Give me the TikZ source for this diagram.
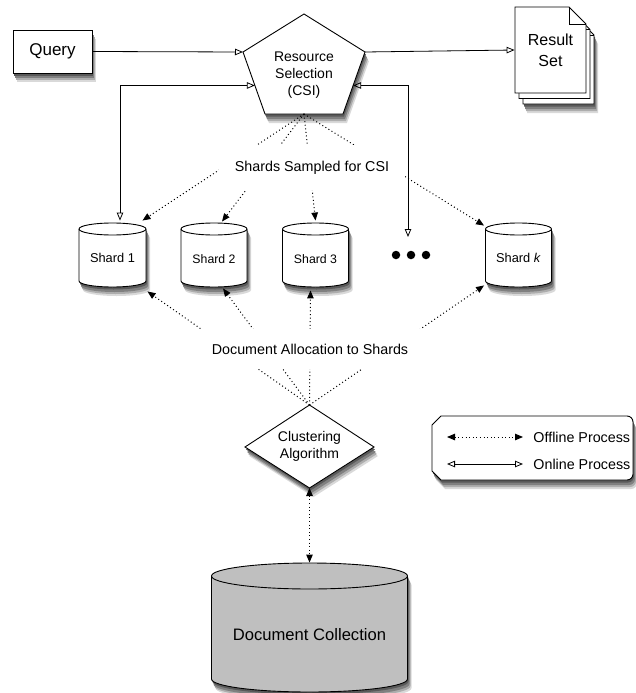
\documentclass[tikz,border=0pt]{standalone}
\usepackage{fontspec}
\setmainfont{Liberation Sans}
\usetikzlibrary{arrows.meta,calc}
\tikzset{
  online/.style={line width=0.8pt},
  offline/.style={line width=1pt,dash pattern=on 1pt off 2.6pt},
  onend/.style={online,-{Triangle[open,length=8pt,width=6.5pt]}},
  onboth/.style={online,{Triangle[open,length=8pt,width=6.5pt]}-{Triangle[open,length=8pt,width=6.5pt]}},
  offend/.style={offline,-{Triangle[length=8pt,width=6.5pt]}},
  offboth/.style={offline,{Triangle[length=8pt,width=6.5pt]}-{Triangle[length=8pt,width=6.5pt]}},
  lbl/.style={font=\fontsize{14.3}{17}\selectfont},
}
\definecolor{shA}{gray}{0.85}
\definecolor{shB}{gray}{0.68}
\definecolor{shC}{gray}{0.50}
\definecolor{shD}{gray}{0.35}
% soft shadow: several shifted grey copies of a numeric path
\newcommand{\shadowof}[1]{%
  \begin{scope}[shift={(4,-9)}]\fill[shA] #1;\end{scope}
  \begin{scope}[shift={(3,-7)}]\fill[shB] #1;\end{scope}
  \begin{scope}[shift={(2,-5)}]\fill[shC] #1;\end{scope}
  \begin{scope}[shift={(1,-2.5)}]\fill[shD] #1;\end{scope}
}
% #1 name, #2 cx, #3 top, #4 bottom, #5 rx, #6 ry, #7 fill, #8 text, #9 text y
\newcommand{\mycyl}[9]{%
  \shadowof{(#2-#5,-#3-#6) -- (#2-#5,-#4+#6)
     arc[start angle=180,end angle=360,x radius=#5,y radius=#6]
     -- (#2+#5,-#3-#6)
     arc[start angle=0,end angle=180,x radius=#5,y radius=#6] -- cycle}
  \draw[fill=#7] (#2-#5,-#3-#6) -- (#2-#5,-#4+#6)
     arc[start angle=180,end angle=360,x radius=#5,y radius=#6]
     -- (#2+#5,-#3-#6)
     arc[start angle=0,end angle=180,x radius=#5,y radius=#6] -- cycle;
  \draw (#2-#5,-#3-#6) arc[start angle=180,end angle=360,x radius=#5,y radius=#6];
  \node[minimum width=2*#5, minimum height=#4-#3, inner sep=0] (#1) at (#2,-#3/2-#4/2) {};
  \node (#1t) at (#2,-#9) {#8};
}
\newcommand{\pentpath}{(304,-14) -- (365,-52) -- (343,-114) -- (265,-114) -- (243,-52) -- cycle}
\newcommand{\diampath}{(309.5,-405) -- (374,-447) -- (309.5,-488) -- (245,-447) -- cycle}
\newcommand{\pagepath}{(515,-7) -- (569,-7) -- (586,-24) -- (586,-93) -- (515,-93) -- cycle}
\newcommand{\legpath}{(441,-416) -- (627,-416) arc[start angle=90,end angle=0,radius=6]
  -- (633,-474) arc[start angle=0,end angle=-90,radius=6]
  -- (441,-480) -- (432,-471) -- (432,-425) -- cycle}
\begin{document}
\begin{tikzpicture}[x=1pt,y=1pt,line width=0.9pt]
\fill[white] (0,0) rectangle (636,-693);
\useasboundingbox (0,0) rectangle (636,-693);

% ---------- Query
\shadowof{(13,-30) rectangle (92,-73)}
\node[draw, fill=white, minimum width=79, minimum height=43, inner sep=0,
      font=\fontsize{17}{20}\selectfont] (q) at (52.5,-51.5) {Query};

% ---------- Pentagon (Resource Selection)
\shadowof{\pentpath}
\draw[fill=white] \pentpath;
\coordinate (pl) at (243,-52);
\coordinate (pr) at (365,-52);
\coordinate (pbl) at (265,-114);
\coordinate (pbr) at (343,-114);
\coordinate (pb) at (304,-114);
\node[align=center, font=\fontsize{14}{17}\selectfont] (csi) at (304,-75) {Resource\\Selection\\(CSI)};

% ---------- Result Set (stack of pages)
\begin{scope}[shift={(8,-11)}]
  \shadowof{\pagepath}
  \draw[fill=white] \pagepath;
  \draw (569,-7) -- (569,-24) -- (586,-24);
\end{scope}
\begin{scope}[shift={(4,-5.5)}]
  \draw[fill=white] \pagepath;
  \draw (569,-7) -- (569,-24) -- (586,-24);
\end{scope}
\draw[fill=white] \pagepath;
\draw (569,-7) -- (569,-24) -- (586,-24);
\node[minimum width=71, minimum height=86, inner sep=0, align=center,
      font=\fontsize{16}{21}\selectfont] (res) at (550.5,-50) {Result\\Set};

% ---------- Shards
\mycyl{s1}{112.5}{223}{287}{33.5}{6}{white}{\fontsize{12.8}{15}\selectfont Shard 1}{258}
\mycyl{s2}{214}{223}{287}{33}{6}{white}{\fontsize{12.3}{15}\selectfont Shard 2}{259}
\mycyl{s3}{315.5}{223}{287}{33}{6}{white}{\fontsize{12.3}{15}\selectfont Shard 3}{259}
\mycyl{sk}{518.5}{223}{287}{33}{6}{white}{\fontsize{12.8}{15}\selectfont Shard \textit{k}}{258}

% dots
\node[circle, fill, inner sep=0, minimum size=8.5] (d1) at (396,-255) {};
\node[circle, fill, inner sep=0, minimum size=8.5] (d2) at (411,-255) {};
\node[circle, fill, inner sep=0, minimum size=8.5] (d3) at (426,-255) {};

% ---------- Clustering diamond
\shadowof{\diampath}
\draw[fill=white] \diampath;
\coordinate (dt) at (309.5,-405);
\coordinate (db) at (309.5,-488);
\node[align=center, font=\fontsize{14}{17}\selectfont] (clus) at (309.5,-446.5) {Clustering\\Algorithm};

% ---------- Document collection
\mycyl{dc}{309.5}{563}{692}{98}{13}{black!25}{\fontsize{16.6}{20}\selectfont Document Collection}{635}

% ---------- Legend box
\shadowof{\legpath}
\draw[fill=white] \legpath;
\node[minimum width=201, minimum height=64, inner sep=0] (leg) at (532.5,-448) {};

% ---------- connector anchor points
\coordinate (s1a) at ($(s1.north east)+(-4,2)$);
\coordinate (s2a) at ($(s2.north)+(8,1)$);
\coordinate (s3a) at ($(s3.north)+(0,2)$);
\coordinate (ska) at ($(sk.north west)+(-1,-3)$);
\coordinate (s1b) at ($(s1.south east)+(1,-4)$);
\coordinate (s2b) at ($(s2.south)+(9,-1)$);
\coordinate (s3b) at ($(s3.south)+(-5,-3)$);
\coordinate (skb) at ($(sk.south west)+(-1,2)$);

% sampled-shards fan (offline)
\draw[offend] (pb) -- (s1a);
\draw[offend] (pb) -- (s2a);
\draw[offend] (pb) -- (s3a);
\draw[offend] (pb) -- (ska);
% allocation fan (offline)
\draw[offend] (dt) -- (s1b);
\draw[offend] (dt) -- (s2b);
\draw[offend] (dt) -- (s3b);
\draw[offend] (dt) -- (skb);

% labels over the fans
\node[fill=white, minimum width=186, minimum height=45, lbl] (ssl) at (312,-167.5) {Shards Sampled for CSI};
\node[fill=white, minimum width=222, minimum height=40, lbl] (dal) at (310,-349) {Document Allocation to Shards};

% online connectors
\coordinate (csiL) at ($(pl)!0.54!(pbl)$);
\coordinate (csiR) at ($(pr)!0.54!(pbr)$);
\coordinate (s1in) at ($(s1.north)+(7.5,2)$);
\coordinate (dotsin) at ($(d2)+(-3,18)$);
\draw[onend] (q.east) -- (pl);
\draw[onend] (pr) -- (res.west);
\draw[onboth] (csiL) -| (s1in);
\draw[onboth] (csiR) -| (dotsin);

% clustering <-> collection
\draw[offboth] (db) -- (dc.north);

% ---------- Legend content
\coordinate (lo1) at (447,-437);
\coordinate (lo2) at (523,-437);
\coordinate (ln1) at (447,-464);
\coordinate (ln2) at (523,-464);
\draw[offboth] (lo1) -- (lo2);
\draw[onboth] (ln1) -- (ln2);
\node[anchor=west, lbl, inner sep=0] (lt1) at (533,-437) {Offline Process};
\node[anchor=west, lbl, inner sep=0] (lt2) at (533,-464) {Online Process};
\end{tikzpicture}
\end{document}
